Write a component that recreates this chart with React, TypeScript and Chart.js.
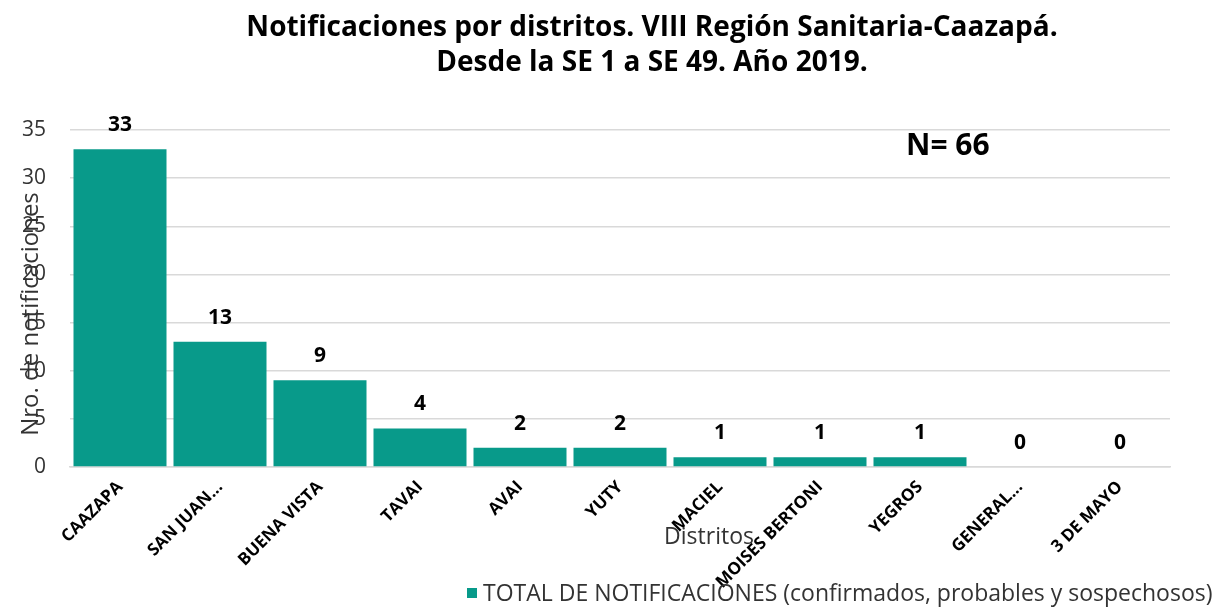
import React, { useEffect, useRef } from "react";
import { Chart, registerables } from "chart.js";
Chart.register(...registerables);

const categories = ["CAAZAPA", "SAN JUAN...", "BUENA VISTA", "TAVAI", "AVAI", "YUTY", "MACIEL", "MOISES BERTONI", "YEGROS", "GENERAL...", "3 DE MAYO"];
const values = [33, 13, 9, 4, 2, 2, 1, 1, 1, 0, 0];
const yTicks = [0, 5, 10, 15, 20, 25, 30, 35];
const titleLines = ["Notificaciones por distritos. VIII Región Sanitaria-Caazapá.", "Desde la SE 1 a SE 49. Año 2019."];
const seriesName = "TOTAL DE NOTIFICACIONES (confirmados, probables y sospechosos)";
const yTitle = "Nro. de notificaciones";
const xTitle = "Distritos";
const nText = "N= 66";

const FONT = "'Open Sans', 'Noto Sans', sans-serif";
const BAR = "#089a8a";

const overlay = {
  id: "overlay",
  afterDatasetsDraw(chart: any) {
    const ctx = chart.ctx;
    const meta = chart.getDatasetMeta(0);
    ctx.save();
    ctx.fillStyle = "#000";
    ctx.font = `bold 21px ${FONT}`;
    ctx.textAlign = "center";
    ctx.textBaseline = "middle";
    meta.data.forEach((el: any, i: number) => {
      ctx.fillText(String(values[i]), el.x, el.y - 24);
    });
    ctx.restore();
  },
  afterDraw(chart: any) {
    const ctx = chart.ctx;
    ctx.save();
    // title
    ctx.fillStyle = "#000";
    ctx.font = `bold 28px ${FONT}`;
    ctx.textAlign = "center";
    ctx.textBaseline = "middle";
    ctx.fillText(titleLines[0], 652, 28);
    ctx.fillText(titleLines[1], 652, 63);
    // N
    ctx.font = `bold 30px ${FONT}`;
    ctx.textAlign = "left";
    ctx.fillText(nText, 906, 146);
    // y title
    ctx.fillStyle = "#333";
    ctx.font = `24px ${FONT}`;
    ctx.save();
    ctx.translate(31, 314);
    ctx.rotate(-Math.PI / 2);
    ctx.textAlign = "center";
    ctx.fillText(yTitle, 0, 0);
    ctx.restore();
    // x title
    ctx.font = `23px ${FONT}`;
    ctx.textAlign = "center";
    ctx.fillText(xTitle, 709, 537);
    // legend
    ctx.fillStyle = BAR;
    ctx.fillRect(467, 588, 10, 10);
    ctx.fillStyle = "#333";
    ctx.font = `23px ${FONT}`;
    ctx.textAlign = "left";
    ctx.fillText(seriesName, 483, 594);
    ctx.restore();
  },
};

export default function App() {
  const ref = useRef<HTMLCanvasElement>(null);
  useEffect(() => {
    const chart = new Chart(ref.current!, {
      type: "bar",
      data: {
        labels: categories,
        datasets: [
          {
            label: seriesName,
            data: values,
            backgroundColor: BAR,
            categoryPercentage: 0.93,
            barPercentage: 1,
          },
        ],
      },
      options: {
        animation: false,
        responsive: false,
        maintainAspectRatio: false,
        layout: { padding: { top: 130, right: 52, left: 0, bottom: 0 } },
        plugins: { legend: { display: false }, title: { display: false }, tooltip: { enabled: false } },
        scales: {
          x: {
            grid: { display: false },
            border: { color: "#d9d9d9", width: 1.5 },
            ticks: {
              color: "#000",
              font: { family: FONT, size: 17, weight: "bold" },
              minRotation: 45,
              maxRotation: 45,
              autoSkip: false,
              padding: 2,
            },
            afterFit(scale: any) {
              scale.height = 141;
            },
          },
          y: {
            min: 0,
            max: 35,
            afterBuildTicks(scale: any) {
              scale.ticks = yTicks.map((v) => ({ value: v }));
            },
            grid: { color: "#d9d9d9", lineWidth: 1.5, drawTicks: false },
            border: { display: false },
            ticks: {
              color: "#333",
              font: { family: FONT, size: 21 },
              padding: 24,
            },
            afterFit(scale: any) {
              scale.width = 70;
            },
          },
        },
      },
      plugins: [overlay],
    });
    return () => chart.destroy();
  }, []);
  return (
    <div style={{ position: "fixed", left: 0, top: 0, width: 1222, height: 608, background: "#fff" }}>
      <canvas ref={ref} width={1222} height={608} style={{ display: "block" }} />
    </div>
  );
}
